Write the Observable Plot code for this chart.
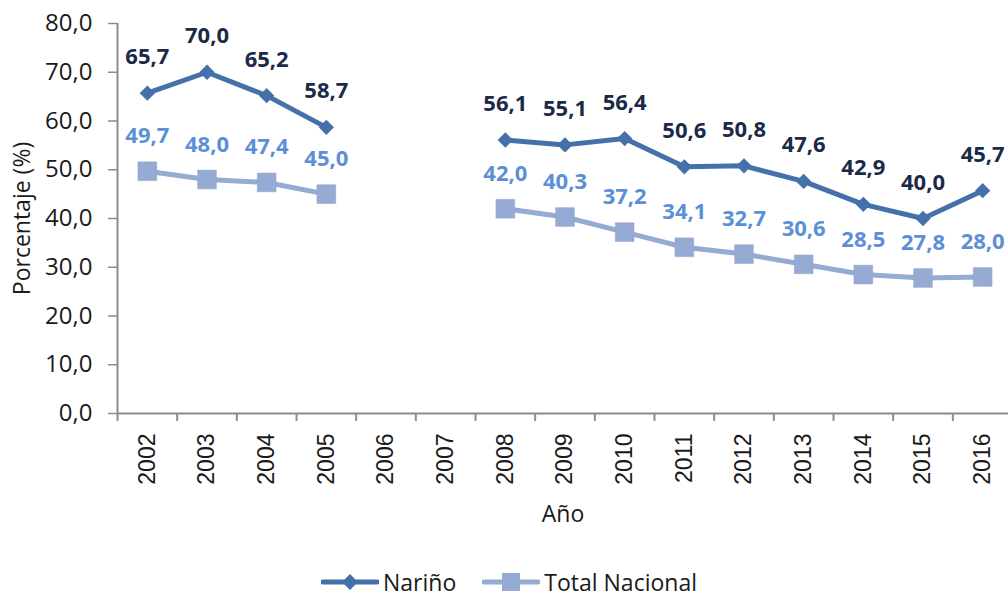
<!DOCTYPE html>
<html>
<head>
<meta charset="utf-8">
<script src="https://cdn.jsdelivr.net/npm/d3@7"></script>
<script src="https://cdn.jsdelivr.net/npm/@observablehq/plot@0.6"></script>
<style>
  html, body { margin: 0; padding: 0; background: #fff; }
  #chart { width: 1008px; height: 596px; position: relative; font-family: "Open Sans", sans-serif; }
  .legend { display: flex; justify-content: center; align-items: center; gap: 26px; height: 28px; padding-top: 13px; font-size: 23px; line-height: 28px; color: #1a1a1a; padding-left: 10px; }
  .legend .item { display: flex; align-items: center; gap: 4px; }
  .legend svg { display: block; }
  svg.plot { overflow: visible; }
</style>
</head>
<body>
<div id="chart"></div>
<script>
const years = [2002, 2003, 2004, 2005, 2006, 2007, 2008, 2009, 2010, 2011, 2012, 2013, 2014, 2015, 2016];
const narino = [65.7, 70.0, 65.2, 58.7, null, null, 56.1, 55.1, 56.4, 50.6, 50.8, 47.6, 42.9, 40.0, 45.7];
const totalNacional = [49.7, 48.0, 47.4, 45.0, null, null, 42.0, 40.3, 37.2, 34.1, 32.7, 30.6, 28.5, 27.8, 28.0];
const yTicks = [0, 10, 20, 30, 40, 50, 60, 70, 80];
const seriesNames = ["Nariño", "Total Nacional"];

const cNarLine = "#4571aa";
const cNarText = "#1b2a47";
const cTotLine = "#95abd3";
const cTotText = "#5b8fd6";
const axisGray = "#8c8c8c";

const narData = years.map((y, i) => ({year: y, value: narino[i]}));
const totData = years.map((y, i) => ({year: y, value: totalNacional[i]}));
const bounds = years.map(y => y - 0.5).concat([years[years.length - 1] + 0.5]);
const fmt = v => v.toFixed(1).replace(".", ",");
const has = d => d.value != null;

const plot = Plot.plot({
  width: 1008,
  height: 555,
  marginTop: 23,
  marginBottom: 142,
  marginLeft: 117,
  marginRight: 0,
  style: {fontFamily: "Open Sans, sans-serif", background: "white", overflow: "visible"},
  x: {domain: [bounds[0], bounds[bounds.length - 1]], range: [117, 1012]},
  y: {domain: [0, 80]},
  marks: [
    // y axis
    Plot.axisY(yTicks, {tickSize: 9, tickPadding: 16, tickFormat: fmt, fontSize: 24, fill: "#1a1a1a", stroke: axisGray, strokeWidth: 1.5, label: null}),
    Plot.ruleX([bounds[0]], {y1: 0, y2: 80, stroke: axisGray, strokeWidth: 2}),
    // x axis
    Plot.ruleY([0], {x1: bounds[0], x2: bounds[bounds.length - 1], stroke: axisGray, strokeWidth: 2}),
    Plot.axisX(bounds, {tickSize: 8, tickFormat: () => "", stroke: axisGray, strokeWidth: 2, label: null}),
    Plot.axisX(years, {tickSize: 0, tickPadding: 20, tickRotate: -90, tickFormat: d => String(d), fontSize: 23, fontFamily: "Liberation Sans, Arial, sans-serif", fill: "#1a1a1a", label: null}),
    // axis titles
    Plot.text(["Año"], {frameAnchor: "bottom", dy: 101, textAnchor: "middle", lineAnchor: "middle", text: d => d, fontSize: 23, fill: "#1a1a1a"}),
    Plot.text(["Porcentaje (%)"], {frameAnchor: "left", dx: -95, textAnchor: "middle", lineAnchor: "middle", rotate: -90, text: d => d, fontSize: 23, fill: "#1a1a1a"}),
    // series
    Plot.line(totData, {x: "year", y: "value", stroke: cTotLine, strokeWidth: 5}),
    Plot.dot(totData.filter(has), {x: "year", y: "value", symbol: "square", r: 10.6, fill: cTotLine, stroke: "#8ea6d0", strokeWidth: 0.5}),
    Plot.line(narData, {x: "year", y: "value", stroke: cNarLine, strokeWidth: 5}),
    Plot.dot(narData.filter(has), {x: "year", y: "value", symbol: "diamond2", r: 6.9, fill: cNarLine}),
    Plot.text(totData.filter(has), {x: "year", y: "value", text: d => fmt(d.value), dy: -35, fontSize: 22, fontWeight: "bold", fill: cTotText}),
    Plot.text(narData.filter(has), {x: "year", y: "value", text: d => fmt(d.value), dy: -36, fontSize: 22, fontWeight: "bold", fill: cNarText})
  ]
});

const chart = document.getElementById("chart");
chart.appendChild(plot);

const legend = document.createElement("div");
legend.className = "legend";
const symbols = [
  `<svg width="58" height="20"><line x1="2" y1="10" x2="56" y2="10" stroke="${cNarLine}" stroke-width="5" stroke-linecap="round"/><path d="M29,2 L37,10 L29,18 L21,10 Z" fill="${cNarLine}"/></svg>`,
  `<svg width="58" height="20"><line x1="2" y1="10" x2="56" y2="10" stroke="${cTotLine}" stroke-width="5" stroke-linecap="round"/><rect x="20" y="1" width="18" height="18" fill="${cTotLine}"/></svg>`
];
seriesNames.forEach((name, i) => {
  const item = document.createElement("div");
  item.className = "item";
  item.innerHTML = symbols[i] + `<span>${name}</span>`;
  legend.appendChild(item);
});
chart.appendChild(legend);
</script>
</body>
</html>
